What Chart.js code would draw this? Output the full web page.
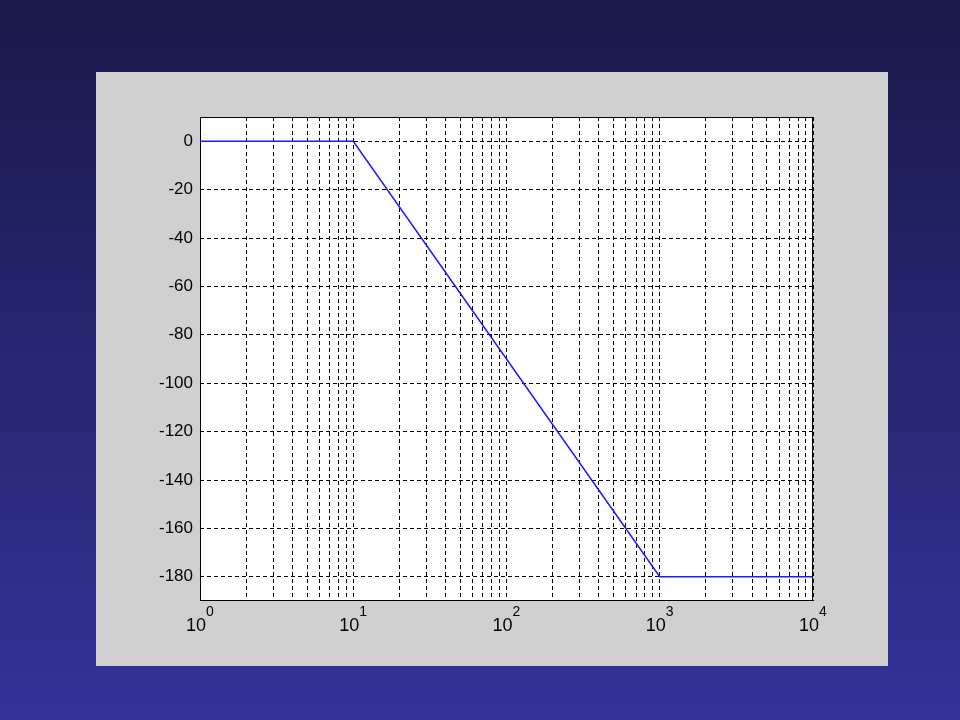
<!DOCTYPE html>
<html>
<head>
<meta charset="utf-8">
<script src="https://cdn.jsdelivr.net/npm/chart.js@4/dist/chart.umd.min.js"></script>
<style>
html,body{margin:0;padding:0;background:#1b1a4c;}
#wrap{width:960px;height:720px;position:relative;}
</style>
</head>
<body>
<div id="wrap"><canvas id="c" width="960" height="720"></canvas></div>
<script>
// Data
const frequency = [1, 10, 1000, 10000];
const magnitude = [0, 0, -180, -180];
const xTickValues = [1,2,3,4,5,6,7,8,9,10,20,30,40,50,60,70,80,90,100,200,300,400,500,600,700,800,900,1000,2000,3000,4000,5000,6000,7000,8000,9000,10000];
const xTickBase = '10';
const xTickExponents = {1:'0', 10:'1', 100:'2', 1000:'3', 10000:'4'};
const yTickValues = [-180,-160,-140,-120,-100,-80,-60,-40,-20,0];

const bgPlugin = {
  id: 'bg',
  beforeDraw(chart) {
    const ctx = chart.ctx;
    ctx.save();
    const g = ctx.createLinearGradient(0, 0, 0, 720);
    g.addColorStop(0, '#1a194a');
    g.addColorStop(1, '#343399');
    ctx.fillStyle = g;
    ctx.fillRect(0, 0, 960, 720);
    ctx.fillStyle = '#d0d0d0';
    ctx.fillRect(96, 72, 792, 594);
    const a = chart.chartArea;
    ctx.fillStyle = '#ffffff';
    ctx.fillRect(a.left, a.top, a.right - a.left, a.bottom - a.top);
    ctx.restore();
  },
  afterDraw(chart) {
    const ctx = chart.ctx;
    const a = chart.chartArea;
    ctx.save();
    ctx.strokeStyle = '#000';
    ctx.lineWidth = 1;
    ctx.strokeRect(Math.round(a.left) + 0.5, Math.round(a.top) + 0.5, Math.round(a.right - a.left) - 1, Math.round(a.bottom - a.top) - 1);
    // x tick labels: 10 with superscript exponent
    const xs = chart.scales.x;
    const baseFont = '18px "Liberation Sans", Arial, sans-serif';
    const supFont = '14px "Liberation Sans", Arial, sans-serif';
    ctx.fillStyle = '#000';
    ctx.textBaseline = 'alphabetic';
    ctx.textAlign = 'left';
    const baseY = a.bottom + 30;
    Object.keys(xTickExponents).forEach(k => {
      const v = Number(k);
      const px = xs.getPixelForValue(v);
      ctx.font = baseFont;
      const wb = ctx.measureText(xTickBase).width;
      ctx.font = supFont;
      const ws = ctx.measureText(xTickExponents[k]).width;
      const left = px - (wb + ws) / 2;
      ctx.font = baseFont;
      ctx.fillText(xTickBase, left, baseY);
      ctx.font = supFont;
      ctx.fillText(xTickExponents[k], left + wb, baseY - 15);
    });
    ctx.restore();
  }
};

new Chart(document.getElementById('c'), {
  type: 'line',
  data: {
    datasets: [{
      data: frequency.map((f, i) => ({x: f, y: magnitude[i]})),
      borderColor: '#1a1aff',
      borderWidth: 1.5,
      pointRadius: 0,
      tension: 0,
      fill: false
    }]
  },
  options: {
    responsive: false,
    animation: false,
    events: [],
    layout: {padding: {left: 0, top: 117, right: 147, bottom: 0}},
    plugins: {legend: {display: false}, tooltip: {enabled: false}},
    scales: {
      x: {
        type: 'logarithmic',
        min: 1, max: 10000,
        afterBuildTicks(scale) { scale.ticks = xTickValues.map(v => ({value: v})); },
        afterFit(scale) { scale.height = 119; },
        border: {display: false, dash: [4, 3]},
        grid: {color: '#000', lineWidth: 1, drawTicks: false, tickLength: 0},
        ticks: {display: false, autoSkip: false}
      },
      y: {
        type: 'linear',
        min: -190, max: 10,
        afterBuildTicks(scale) { scale.ticks = yTickValues.map(v => ({value: v})); },
        afterFit(scale) { scale.width = 200; },
        border: {display: false, dash: [4, 3]},
        grid: {color: '#000', lineWidth: 1, drawTicks: false, tickLength: 0},
        ticks: {
          color: '#000', padding: 7,
          font: {family: 'Liberation Sans, Arial, sans-serif', size: 17},
          callback: (v) => String(v)
        }
      }
    }
  },
  plugins: [bgPlugin]
});
</script>
</body>
</html>
